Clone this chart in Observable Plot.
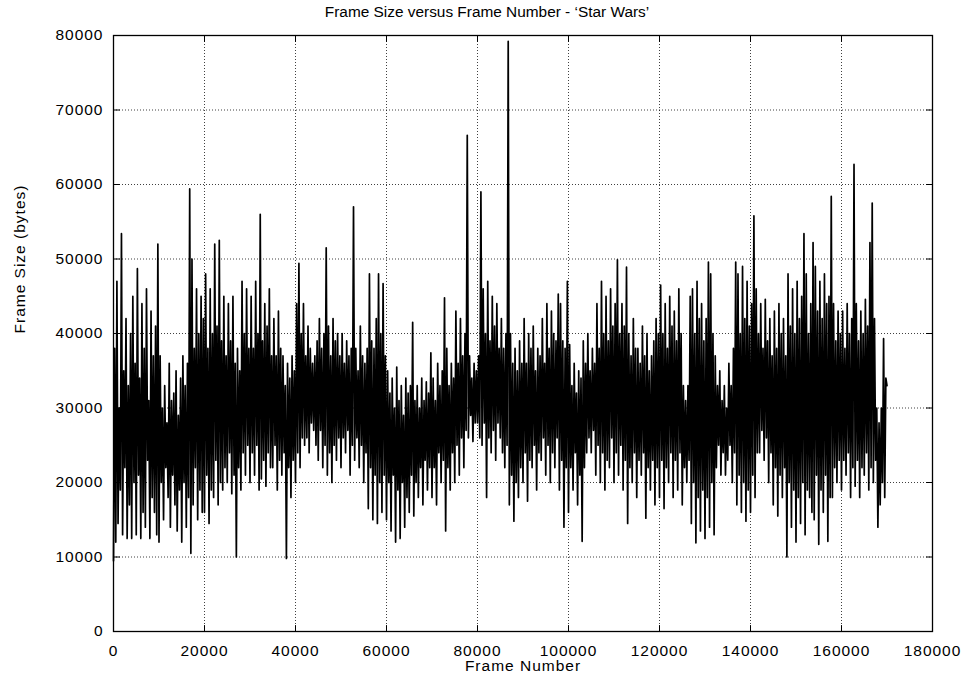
<!DOCTYPE html>
<html><head><meta charset="utf-8">
<script src="https://cdn.jsdelivr.net/npm/d3@7"></script>
<script src="https://cdn.jsdelivr.net/npm/@observablehq/plot@0.6"></script>
<style>
body{margin:0;background:#fff;}
#title{width:966px;height:26px;line-height:26px;text-align:center;font:15.4px "Liberation Sans",Arial,sans-serif;color:#000;padding-left:8px;box-sizing:border-box;position:relative;top:3px;}
#chart svg{font-family:"Liberation Sans",Arial,sans-serif;letter-spacing:1px;}
</style></head><body>
<div id="title">Frame Size versus Frame Number - ‘Star Wars’</div>
<div id="chart"></div>
<script>
// Sampling step (frames) between consecutive readings
const frameStep = 250;
// Frame sizes (bytes), one row per 5000 frames
const sizes00 = [9500,38000,12000,47000,14500,30000,19000,53400,13000,35000,22000,42000,12500,33000,17000,40000,12500,45000,20000,36000];
const sizes01 = [13000,48700,21000,34000,12500,44000,16000,38000,14000,46000,23000,31000,12500,43000,18000,37000,16000,41000,13000,52000];
const sizes02 = [12000,37000,20000,30000,15000,33000,22000,28000,18000,36000,14000,31000,21000,32000,17000,35000,13500,29000,19000,34000];
const sizes03 = [12000,37000,20000,33000,14000,36000,18000,59400,10500,50000,17000,38000,22000,46000,15000,40000,19000,45000,16000,42000];
const sizes04 = [16000,48000,21000,38000,14500,46000,19000,40000,18000,52000,23000,41000,17000,52500,20000,39000,19000,45000,22000,37000];
const sizes05 = [20000,44000,24000,39000,18500,45000,21000,36000,10000,38000,22000,35000,19000,47000,24000,40000,21000,46000,25000,38000];
const sizes06 = [20000,45000,24000,38000,21000,47000,25000,40000,19000,56000,20500,39000,23000,44000,19500,41000,24000,46000,22000,37000];
const sizes07 = [22000,42000,25000,37000,19000,43000,23000,38000,21000,37000,24000,33000,9800,36000,22000,34000,18000,37000,23000,35000];
const sizes08 = [20000,44000,24000,49400,22000,40000,26000,44000,25000,37000,26000,41000,24000,38000,28000,36000,27000,37000,25000,39000];
const sizes09 = [23000,42000,27000,38000,22000,40000,25000,51500,21000,41000,24000,37000,20000,42000,25000,39000,23000,40000,26000,37000];
const sizes10 = [22000,40000,26000,36000,24000,39000,27000,37000,21000,38000,25000,57000,23000,38000,26000,35000,22000,41000,25000,37000];
const sizes11 = [20000,36000,24000,38000,16500,48000,22000,39000,15000,38000,21000,42000,14500,48000,20000,40000,16000,46700,21000,37000];
const sizes12 = [15000,35000,20000,32000,13500,34000,21000,30000,12000,35500,19000,31000,12500,33000,20000,29000,14000,34000,18000,32000];
const sizes13 = [16000,33000,21000,41500,15500,31000,20000,33000,18000,30000,22000,34000,17000,31000,23000,33500,19000,32000,22000,37400];
const sizes14 = [18000,34000,22000,31000,17000,36000,24000,33000,20000,35000,23000,44800,13500,38000,22000,33000,19000,36000,24000,34000];
const sizes15 = [20000,43000,25000,36000,21000,42000,26000,37000,22000,40000,27000,66600,26000,37000,29000,34000,25500,36000,28000,35000];
const sizes16 = [28000,37000,26000,59000,25000,46000,28000,40000,18000,47000,26000,39000,24000,45000,27000,41000,23000,44000,28000,38000];
const sizes17 = [26000,42000,24000,38000,22000,40000,25000,79200,17000,40000,21000,36000,14800,38000,20000,35000,18000,39000,22000,36000];
const sizes18 = [20000,42000,24000,36000,17500,40000,23000,38000,22000,41000,25000,35000,19000,38000,24000,37000,23000,42000,26000,36000];
const sizes19 = [21000,44000,25000,38000,20000,43000,24000,40000,22000,39000,26000,45300,19000,44000,23000,39000,14000,38000,22000,47000];
const sizes20 = [16000,38500,22000,33000,19000,36000,24000,32000,17000,35000,21000,34000,12100,39000,22000,36000,24000,40000,26000,35000];
const sizes21 = [24000,38000,27000,36000,21000,44000,25000,38000,20000,47000,24000,40000,19000,45000,23000,39000,22000,46000,26000,41000];
const sizes22 = [20000,44000,24000,49900,21000,40000,25000,44000,19000,41000,23000,48900,14500,40000,22000,37000,20000,42000,24000,38000];
const sizes23 = [18000,38000,23000,36000,21000,41000,24000,37000,15200,40000,22000,35000,19000,37000,23000,39000,17000,42000,22000,40000];
const sizes24 = [18000,46500,23000,40000,16500,44000,22000,38000,20000,45000,24000,41000,18000,43000,23000,39000,19000,46000,24000,40000];
const sizes25 = [17000,33000,22000,31000,20000,33000,23000,45000,14500,46000,20000,40000,11900,47000,18000,42000,13500,44000,19000,39000];
const sizes26 = [12500,42000,18000,49600,14000,48000,20000,40000,13000,37000,22000,33000,25000,35000,21000,31000,24000,33000,21000,30000];
const sizes27 = [23000,36000,25000,33000,20000,38000,24000,49600,17000,48000,21000,40000,16000,49000,20000,42000,14800,47000,19000,41000];
const sizes28 = [16000,44000,21000,55800,18000,46000,24000,40000,24000,44000,27000,38000,23000,44600,26000,39000,20000,42000,24000,37000];
const sizes29 = [17000,43000,22000,38000,15500,44000,21000,40000,18000,42000,22000,37000,10000,48000,20000,41000,14000,46000,19000,40000];
const sizes30 = [12000,47000,18000,42000,14500,45000,20000,53400,13000,48000,19000,40000,18000,44000,16000,52200,15000,49000,21000,43000];
const sizes31 = [11700,47000,19000,42000,16000,48000,21000,44000,12100,45000,18000,58400,18000,44000,22000,39000,20000,43000,23000,40000];
const sizes32 = [19000,43000,23000,38000,21000,44000,24000,40000,18000,42000,22000,62700,19500,44000,23000,39000,18000,43000,22000,40000];
const sizes33 = [21000,44600,24000,41000,19000,52200,22000,57500,20000,42000,23000,30000,14000,28000,17000,30000,20000,39300,18000,34000,33000];
// Axis ticks
const xTicks = [0,20000,40000,60000,80000,100000,120000,140000,160000,180000];
const yTicks = [0,10000,20000,30000,40000,50000,60000,70000,80000];

const allSizes = [].concat(sizes00,sizes01,sizes02,sizes03,sizes04,sizes05,sizes06,sizes07,sizes08,sizes09,
  sizes10,sizes11,sizes12,sizes13,sizes14,sizes15,sizes16,sizes17,sizes18,sizes19,
  sizes20,sizes21,sizes22,sizes23,sizes24,sizes25,sizes26,sizes27,sizes28,sizes29,
  sizes30,sizes31,sizes32,sizes33);
const data = allSizes.map((s, i) => ({frame: i * frameStep, size: s}));

const tickShape = {draw(ctx, l) { ctx.moveTo(0, 0); ctx.lineTo(0, -l); }};
const tickOpts = {length: 6, anchor: "start", shape: tickShape, stroke: "black", strokeWidth: 1};

const chart = Plot.plot({
  width: 966,
  height: 657,
  marginLeft: 113,
  marginRight: 34,
  marginTop: 9,
  marginBottom: 52,
  style: {fontSize: "15.5px", fontFamily: "'Liberation Sans', Arial, sans-serif", background: "white", color: "black"},
  x: {domain: [0, 180000]},
  y: {domain: [0, 80000]},
  marks: [
    Plot.gridX(xTicks, {stroke: "#000", strokeOpacity: 0.75, strokeDasharray: "1,2"}),
    Plot.gridY(yTicks, {stroke: "#000", strokeOpacity: 0.75, strokeDasharray: "1,2"}),
    Plot.line(data, {x: "frame", y: "size", stroke: "black", strokeWidth: 1.7}),
    Plot.frame({stroke: "black", strokeWidth: 1.3}),
    Plot.vector(xTicks, {x: d => d, frameAnchor: "bottom", rotate: 0, ...tickOpts}),
    Plot.vector(xTicks, {x: d => d, frameAnchor: "top", rotate: 180, ...tickOpts}),
    Plot.vector(yTicks, {y: d => d, frameAnchor: "left", rotate: 90, ...tickOpts}),
    Plot.vector(yTicks, {y: d => d, frameAnchor: "right", rotate: -90, ...tickOpts}),
    Plot.axisX(xTicks, {tickSize: 0, tickPadding: 13, tickFormat: d => String(d), label: null, fontSize: 15.5}),
    Plot.axisY(yTicks, {tickSize: 0, tickPadding: 10, tickFormat: d => String(d), label: null, fontSize: 15.5}),
    Plot.text(["Frame Number"], {frameAnchor: "bottom", dy: 39, fontSize: 15.5}),
    Plot.text(["Frame Size (bytes)"], {frameAnchor: "left", dx: -93, rotate: -90, fontSize: 15.5})
  ]
});
document.getElementById("chart").appendChild(chart);
</script>
</body></html>
